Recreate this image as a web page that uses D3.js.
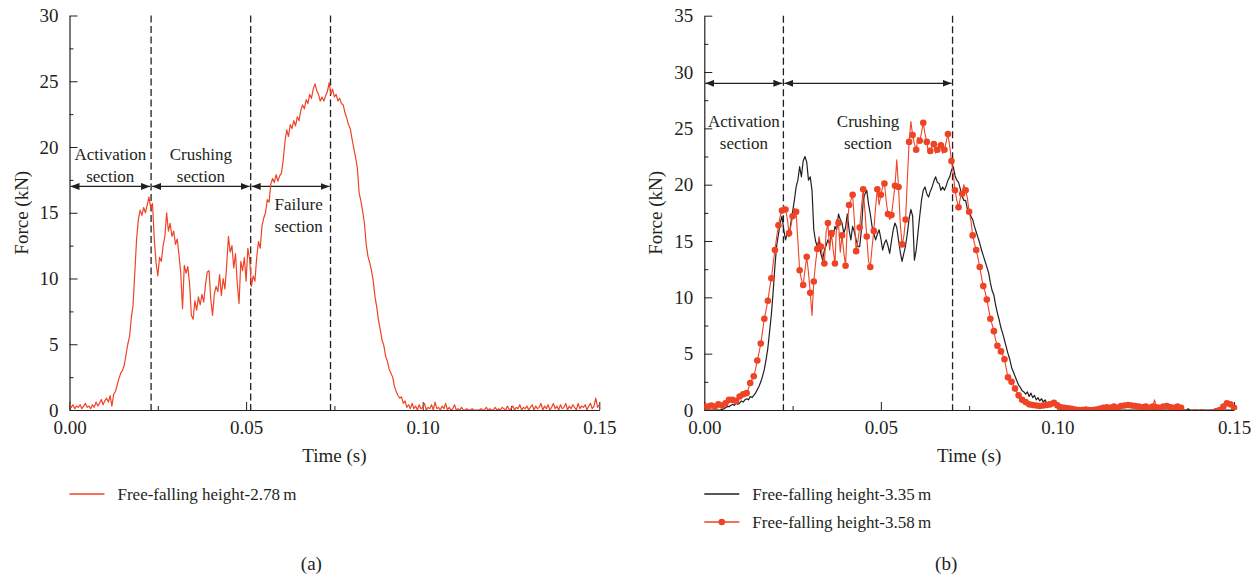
<!DOCTYPE html>
<html>
<head>
<meta charset="utf-8">
<script src="https://cdn.jsdelivr.net/npm/d3@7"></script>
<style>
  body { margin: 0; background: #fff; }
  svg text { font-family: "Liberation Serif", "DejaVu Serif", serif; fill: #231f20; }
</style>
</head>
<body>
<svg id="chart" width="1258" height="576"></svg>
<script>
// sampling of the recorded force signals (s)
const SAMPLE_STEP = 0.0005;
const MARKER_STEP = 0.001;

// (a) free-falling height 2.78 m, one value every 0.5 ms from 0 to 0.15 s
const force278 = [
  0.5,0.2,0.4,0.1,0.3,0.2,0.4,0.1,0.3,0.5,
  0.2,0.3,0.1,0.4,0.2,0.6,0.3,0.5,0.8,0.4,
  0.7,0.9,0.6,1.1,0.3,1.2,1.4,1.9,2.4,2.8,
  3.0,3.4,4.2,5.0,5.6,7.0,8.0,10.5,13.0,14.5,
  15.2,14.8,15.4,15.0,15.6,16.2,15.3,15.7,13.0,11.2,
  10.2,11.6,11.3,12.5,13.2,15.0,13.6,14.2,13.2,13.6,
  12.6,13.0,11.8,10.4,7.7,11.0,10.4,10.9,9.6,7.2,
  6.9,8.3,7.6,8.6,8.0,8.8,8.2,9.5,10.5,10.6,
  8.4,7.2,8.8,9.4,9.0,10.3,8.7,10.0,9.2,11.0,
  13.2,12.0,12.5,10.8,11.9,9.6,8.1,11.3,10.6,11.6,
  9.8,12.3,11.5,9.4,10.2,9.8,11.6,12.8,12.3,14.0,
  14.6,15.0,16.0,15.8,17.2,17.6,17.3,17.9,17.4,17.8,
  18.0,19.0,20.4,21.3,20.8,21.7,21.4,22.0,21.6,22.3,
  22.0,22.8,23.2,22.9,23.6,23.3,24.0,23.7,24.4,24.8,
  24.3,24.0,23.5,23.8,23.5,23.9,24.2,24.9,24.0,24.4,
  23.8,24.0,23.5,23.7,23.3,23.2,22.6,22.2,21.7,21.4,
  20.6,19.9,19.2,18.4,16.5,15.9,15.1,14.2,12.6,11.7,
  11.2,10.6,9.8,8.6,7.8,6.8,6.1,5.3,4.9,4.1,
  3.7,3.1,2.8,2.5,1.8,1.4,1.1,0.9,1.0,0.5,
  0.7,0.2,0.4,0.1,0.5,0.1,0.3,0.0,0.4,0.1,
  0.2,0.5,0.0,0.2,0.1,0.4,0.0,0.6,0.1,0.2,
  0.0,0.3,0.1,0.5,0.0,0.2,0.0,0.1,0.4,0.0,
  0.1,0.0,0.2,0.0,0.0,0.1,0.0,0.0,0.1,0.0,
  0.0,0.0,0.0,0.1,0.0,0.0,0.2,0.0,0.1,0.0,
  0.0,0.2,0.0,0.1,0.0,0.2,0.1,0.0,0.3,0.0,
  0.1,0.3,0.0,0.2,0.1,0.4,0.0,0.2,0.1,0.3,
  0.0,0.2,0.4,0.0,0.3,0.1,0.2,0.5,0.0,0.3,
  0.1,0.4,0.0,0.2,0.5,0.1,0.3,0.0,0.4,0.1,
  0.2,0.5,0.0,0.3,0.1,0.4,0.2,0.0,0.5,0.1,
  0.3,0.2,0.4,0.0,0.3,0.5,0.1,0.3,0.9,0.2,
  0.4
];

// (b) free-falling height 3.35 m, every 0.5 ms
const force335 = [
  0,0,0,0,0,0,0,0,0,0,
  0.05,0.1,0.2,0.3,0.3,0.4,0.5,0.4,0.6,0.5,
  0.6,0.8,0.7,0.9,1.0,0.9,1.2,1.1,1.3,1.5,
  1.8,2.1,2.5,3.0,3.6,4.5,5.5,7.0,8.5,10.5,
  12.8,14.6,15.6,16.6,17.2,16.0,15.1,15.7,15.4,16.6,
  17.6,18.6,19.8,20.4,21.6,20.7,22.1,22.5,22.0,20.4,
  20.7,19.5,16.0,15.0,14.5,15.1,13.9,13.3,14.2,14.6,
  15.1,14.7,15.7,15.4,16.3,16.0,17.4,16.9,16.6,15.7,
  16.2,17.4,16.0,15.1,16.3,15.8,15.1,14.5,14.5,16.0,
  18.6,19.2,19.5,18.3,17.4,16.3,15.7,15.1,15.6,16.0,
  15.2,14.2,14.8,15.1,14.6,13.9,15.0,16.0,16.6,16.2,
  15.1,14.0,13.2,13.9,14.6,15.7,17.0,17.8,17.2,13.3,
  14.2,15.7,17.2,18.6,19.5,19.8,19.2,18.9,19.4,19.8,
  20.3,20.7,20.2,20.1,19.5,19.8,19.5,19.9,20.4,20.7,
  21.3,21.6,20.8,20.4,20.2,19.6,19.0,18.6,18.6,17.8,
  17.6,17.2,16.9,16.3,15.8,15.3,14.8,14.2,13.7,13.2,
  12.7,12.2,11.3,10.6,10.2,9.3,8.6,8.0,7.3,6.8,
  6.2,5.6,5.0,4.5,3.8,3.4,3.0,2.6,2.2,2.0,
  1.7,1.6,1.4,1.6,1.2,1.5,1.1,1.3,0.9,1.1,
  0.8,1.0,0.7,0.9,0.6,0.7,0.5,0.6,0.4,0.6,
  0.3,0.5,0.3,0.4,0.2,0.3,0.1,0.3,0.1,0.2,
  0,0.1,0,0,0.1,0,0,0,0,0,
  0.1,0,0,0,0,0,0,0,0,0,
  0,0,0,0,0.1,0,0,0,0,0,
  0,0,0,0,0,0,0,0,0,0,
  0,0,0,0,0.05,0,0,0,0,0,
  0,0,0,0,0,0,0,0,0,0,
  0,0,0,0,0.1,0,0,0,0,0,
  0,0,0,0,0,0,0,0,0,0,
  0,0,0,0,0,0,0,0,0,0,
  0
];

// (b) free-falling height 3.58 m: marked samples every 1 ms ...
const force358Marks = [
  0.3,0.3,0.4,0.3,0.5,0.4,0.6,0.9,0.9,0.8,
  1.2,1.4,1.5,2.4,3.0,4.4,5.9,8.1,9.7,11.7,
  14.2,16.4,17.7,17.8,15.7,17.2,17.6,12.4,11.1,13.6,
  10.4,11.4,14.3,14.5,13.0,16.6,15.7,13.0,16.6,15.5,
  12.8,18.2,19.1,14.1,16.2,19.6,15.4,12.7,15.9,19.6,
  19.1,20.1,17.4,17.3,19.9,19.8,14.7,16.9,23.8,24.4,
  23.1,23.9,25.5,23.8,23.0,23.6,23.1,23.5,23.1,24.5,
  22.1,19.5,18.0,19.2,19.5,17.6,15.5,14.2,12.7,11.0,
  9.8,8.1,7.0,5.7,5.2,4.5,2.9,2.5,1.9,1.3,
  0.9,0.7,0.5,0.45,0.4,0.35,0.4,0.45,0.5,0.65,
  0.4,0.25,0.2,0.15,0.1,0.05,0.0,0.0,0.05,0.0,
  0.0,0.05,0.1,0.2,0.25,0.2,0.3,0.2,0.35,0.4,
  0.45,0.4,0.35,0.3,0.25,0.3,0.2,0.3,0.25,0.2,
  0.3,0.35,0.25,0.2,0.3,0.2,-0.2,-0.3,-0.3,-0.2,
  -0.3,-0.2,-0.3,-0.3,-0.2,-0.1,0.0,0.3,0.6,0.5,
  0.2
];
// ... and the unmarked samples half way between them
const force358Mid = [
  0.2,0.4,0.3,0.4,0.6,0.5,0.8,1.0,0.7,1.0,
  1.3,1.3,1.9,2.7,3.6,5.1,7.0,8.9,10.8,13.0,
  15.4,17.2,18.1,17.0,16.3,17.9,15.0,11.6,12.4,12.2,
  8.4,13.0,15.4,13.6,15.8,14.2,14.2,16.9,14.0,14.0,
  16.4,18.6,16.8,15.0,18.0,17.6,13.2,14.4,18.0,18.2,
  19.8,18.6,16.9,18.6,22.2,16.5,15.4,20.5,25.6,23.6,
  24.2,24.6,24.5,22.8,23.4,22.8,23.4,22.8,23.8,23.4,
  21.0,18.6,18.8,20.0,18.8,16.8,14.8,13.5,11.8,10.5,
  9.0,7.6,6.2,5.6,4.9,3.7,2.7,2.2,1.6,1.1,
  0.8,0.6,0.5,0.4,0.4,0.4,0.4,0.5,0.6,0.5,
  0.3,0.2,0.2,0.1,0.1,0.0,0.0,0.0,0.0,0.0,
  0.0,0.1,0.15,0.2,0.2,0.25,0.25,0.3,0.4,0.4,
  0.45,0.4,0.3,0.3,0.3,0.25,0.25,0.9,0.2,0.25,
  0.3,0.3,0.2,0.3,0.3,0.1,-0.3,-0.2,-0.3,-0.3,
  -0.2,-0.3,-0.2,-0.3,-0.2,0.0,0.1,0.5,0.6,0.3
];

const timeTicks = [0, 0.05, 0.10, 0.15];
const timeMinorTicks = [0.025, 0.075, 0.125];
const forceTicksA = [0, 5, 10, 15, 20, 25, 30];
const forceMinorTicksA = [2.5, 7.5, 12.5, 17.5, 22.5, 27.5];
const forceTicksB = [0, 5, 10, 15, 20, 25, 30, 35];
const forceMinorTicksB = [2.5, 7.5, 12.5, 17.5, 22.5, 27.5, 32.5];

// section boundaries (s) and the force level (kN) of the arrows
const boundsA = [0, 0.0231, 0.0513, 0.0739];
const boundsB = [0, 0.0224, 0.0703];
const arrowForceA = 17;
const arrowForceB = 29;
const sectionNamesA = ["Activation", "Crushing", "Failure"];
const sectionNamesB = ["Activation", "Crushing"];

const svg = d3.select("#chart");
const TICK_FONT = 19;
const TITLE_FONT = 19;
const NOTE_FONT = 17;
const RED = "#ef4326";
const INK = "#231f20";

svg.append("defs").append("marker")
    .attr("id", "arrowhead")
    .attr("markerUnits", "userSpaceOnUse")
    .attr("markerWidth", 9)
    .attr("markerHeight", 7)
    .attr("refX", 9)
    .attr("refY", 3.5)
    .attr("orient", "auto-start-reverse")
    .append("path")
    .attr("d", "M0,0L9,3.5L0,7Z")
    .attr("fill", INK);

function toPoints(values, step) {
    return values.map((v, i) => ({ t: i * step, f: v }));
}

function styleAxis(g) {
    g.attr("font-family", null).attr("font-size", null);
    g.selectAll("text").style("font-size", `${TICK_FONT}px`);
    g.selectAll("line").attr("stroke", INK).attr("stroke-width", 1);
    g.select(".domain").attr("stroke", INK).attr("stroke-width", 1.2);
}

function plotPanel(p) {
    const x = d3.scaleLinear().domain([0, 0.15]).range([p.left, p.right]);
    const y = d3.scaleLinear().domain([0, p.yMax]).range([p.bottom, p.top]);
    const g = svg.append("g");

    svg.select("defs").append("clipPath").attr("id", "clip-" + p.id)
        .append("rect")
        .attr("x", p.left)
        .attr("y", p.top - 10)
        .attr("width", p.right - p.left + 6)
        .attr("height", p.bottom - p.top + 10);

    // section boundaries
    g.selectAll(null)
        .data(p.bounds.slice(1))
        .enter()
        .append("line")
        .attr("x1", d => x(d)).attr("x2", d => x(d))
        .attr("y1", p.top).attr("y2", p.bottom)
        .attr("stroke", INK)
        .attr("stroke-width", 1.3)
        .attr("stroke-dasharray", "7,3.5");

    // double arrows between boundaries
    const spans = d3.pairs(p.bounds);
    g.selectAll(null)
        .data(spans)
        .enter()
        .append("line")
        .attr("x1", d => x(d[0]) + 1).attr("x2", d => x(d[1]) - 1)
        .attr("y1", y(p.arrowForce)).attr("y2", y(p.arrowForce))
        .attr("stroke", INK)
        .attr("stroke-width", 1.3)
        .attr("marker-start", "url(#arrowhead)")
        .attr("marker-end", "url(#arrowhead)");

    // section names
    spans.forEach((d, i) => {
        const lab = p.labels[i];
        const cx = lab.dx === undefined ? (x(d[0]) + x(d[1])) / 2 : x(d[0]) + lab.dx;
        const t = g.append("text")
            .attr("text-anchor", "middle")
            .style("font-size", `${NOTE_FONT}px`);
        t.append("tspan").attr("x", cx).attr("y", y(p.arrowForce) + lab.dy).text(lab.name);
        t.append("tspan").attr("x", cx).attr("y", y(p.arrowForce) + lab.dy + 22).text("section");
    });

    // axes
    g.append("g")
        .attr("transform", `translate(0,${p.bottom})`)
        .call(d3.axisBottom(x).tickValues(timeTicks).tickFormat(d3.format(".2f"))
            .tickSize(-8).tickSizeOuter(0).tickPadding(11))
        .call(styleAxis);
    g.append("g")
        .attr("transform", `translate(0,${p.bottom})`)
        .call(d3.axisBottom(x).tickValues(timeMinorTicks).tickFormat("").tickSize(-4).tickSizeOuter(0))
        .call(styleAxis)
        .call(a => a.select(".domain").remove());
    g.append("g")
        .attr("transform", `translate(${p.left},0)`)
        .call(d3.axisLeft(y).tickValues(p.yTicks).tickSize(-8).tickSizeOuter(0).tickPadding(11))
        .call(styleAxis);
    g.append("g")
        .attr("transform", `translate(${p.left},0)`)
        .call(d3.axisLeft(y).tickValues(p.yMinor).tickFormat("").tickSize(-4).tickSizeOuter(0))
        .call(styleAxis)
        .call(a => a.select(".domain").remove());

    g.append("text")
        .attr("transform", `translate(${p.left - 42},${(p.top + p.bottom) / 2}) rotate(-90)`)
        .attr("text-anchor", "middle")
        .style("font-size", `${TITLE_FONT}px`)
        .text("Force (kN)");
    g.append("text")
        .attr("x", (p.left + p.right) / 2)
        .attr("y", p.bottom + 52)
        .attr("text-anchor", "middle")
        .style("font-size", `${TITLE_FONT}px`)
        .text("Time (s)");
    g.append("text")
        .attr("x", (p.left + p.right) / 2 - 23)
        .attr("y", 570)
        .attr("text-anchor", "middle")
        .style("font-size", `${TITLE_FONT}px`)
        .text(p.caption);

    const plot = g.append("g").attr("clip-path", `url(#clip-${p.id})`);
    const line = d3.line().x(d => x(d.t)).y(d => y(d.f));

    p.series.forEach(s => {
        plot.append("path")
            .datum(s.points)
            .attr("fill", "none")
            .attr("stroke", s.color)
            .attr("stroke-width", s.width)
            .attr("stroke-linejoin", "round")
            .attr("d", line);
        if (s.marks) {
            plot.append("g")
                .selectAll("circle")
                .data(s.marks)
                .enter()
                .append("circle")
                .attr("cx", d => x(d.t))
                .attr("cy", d => y(d.f))
                .attr("r", 3.3)
                .attr("fill", s.color);
        }
    });

    // legend
    const legend = g.append("g").attr("transform", `translate(${p.left},${p.bottom + 84})`);
    p.series.forEach((s, i) => {
        const row = legend.append("g").attr("transform", `translate(0,${i * 28})`);
        row.append("line")
            .attr("x1", 0).attr("x2", 35)
            .attr("stroke", s.color)
            .attr("stroke-width", 1.3);
        if (s.marks) {
            row.append("circle").attr("cx", 17.5).attr("r", 3.3).attr("fill", s.color);
        }
        row.append("text")
            .attr("x", 48)
            .attr("y", 6)
            .style("font-size", `${NOTE_FONT}px`)
            .text(s.name);
    });
}

// interleave marked and in-between samples of the 3.58 m record
const marks358 = toPoints(force358Marks, MARKER_STEP);
const line358 = [];
marks358.forEach((d, i) => {
    line358.push(d);
    if (i < force358Mid.length) line358.push({ t: d.t + SAMPLE_STEP, f: force358Mid[i] });
});

plotPanel({
    id: "a", left: 69.5, right: 599.3, top: 15.5, bottom: 410, yMax: 30,
    yTicks: forceTicksA, yMinor: forceMinorTicksA,
    bounds: boundsA, arrowForce: arrowForceA,
    labels: [
        { name: sectionNamesA[0], dy: -26 },
        { name: sectionNamesA[1], dy: -26 },
        { name: sectionNamesA[2], dx: 48, dy: 24 }
    ],
    caption: "(a)",
    series: [
        { name: "Free-falling height-2.78\u2009m", color: RED, width: 1.2, points: toPoints(force278, SAMPLE_STEP) }
    ]
});

plotPanel({
    id: "b", left: 704.3, right: 1234, top: 15.7, bottom: 410, yMax: 35,
    yTicks: forceTicksB, yMinor: forceMinorTicksB,
    bounds: boundsB, arrowForce: arrowForceB,
    labels: [
        { name: sectionNamesB[0], dy: 44 },
        { name: sectionNamesB[1], dy: 44 }
    ],
    caption: "(b)",
    series: [
        { name: "Free-falling height-3.35\u2009m", color: INK, width: 1.2, points: toPoints(force335, SAMPLE_STEP) },
        { name: "Free-falling height-3.58\u2009m", color: RED, width: 1.1, points: line358, marks: marks358 }
    ]
});
</script>
</body>
</html>
